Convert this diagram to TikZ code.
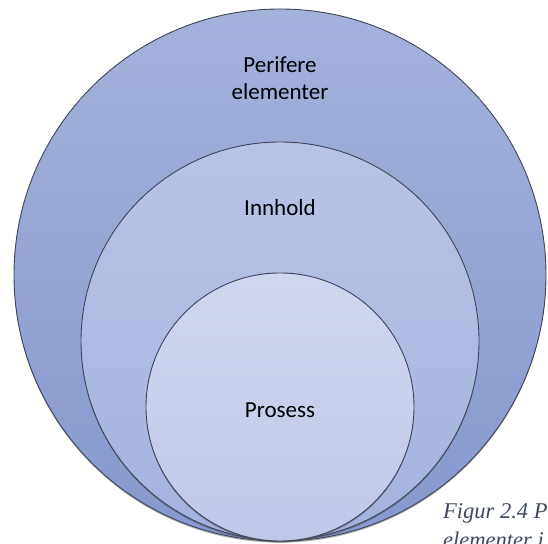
\documentclass[tikz,border=0pt]{standalone}
\usepackage{fontspec}
\setmainfont{Carlito}
\newfontfamily\captionserif{Liberation Serif}
\usetikzlibrary{shadows}
\definecolor{ringA}{HTML}{A4B1DB}
\definecolor{ringAb}{HTML}{8698CE}
\definecolor{ringB}{HTML}{B9C3E5}
\definecolor{ringBb}{HTML}{A4B2DE}
\definecolor{ringC}{HTML}{D0D6EE}
\definecolor{ringCb}{HTML}{BFC8E7}
\definecolor{rimline}{HTML}{3E4558}
\definecolor{captext}{HTML}{3E4A5E}
\tikzset{
  ring/.style={circle, inner sep=0pt, draw=rimline, line width=0.9pt,
    drop shadow={shadow xshift=0pt, shadow yshift=-1.6pt, opacity=0.45, fill=black!70}},
  lbl/.style={font=\fontsize{23}{27}\selectfont, text=black, align=center},
  figcaption/.style={font=\captionserif\itshape\fontsize{22.5}{27}\selectfont, text=captext, anchor=base west, inner sep=0pt}
}
\begin{document}
\begin{tikzpicture}[x=1pt,y=1pt]
  \useasboundingbox (0,0) rectangle (548,543);
  \clip (0,0) rectangle (548,543);
  % nested circles, all touching at the bottom
  \node[ring, minimum size=532pt, top color=ringA, bottom color=ringAb] (outer) at (280,268) {};
  \node[ring, minimum size=398pt, top color=ringB, bottom color=ringBb] (middle) at (280,202) {};
  \node[ring, minimum size=268pt, top color=ringC, bottom color=ringCb] (inner) at (280,136) {};
  % labels
  \node[lbl] (lperi) at (280,465) {Perifere\\elementer};
  \node[lbl] (linn) at (280,335) {Innhold};
  \node[lbl] (lpro) at (280,133) {Prosess};
  % caption running off the right and bottom edges
  \node[figcaption] (cap1) at (443,25) {Figur 2.4 Perifere};
  \node[figcaption] (cap2) at (443,-4) {elementer i};
\end{tikzpicture}
\end{document}
